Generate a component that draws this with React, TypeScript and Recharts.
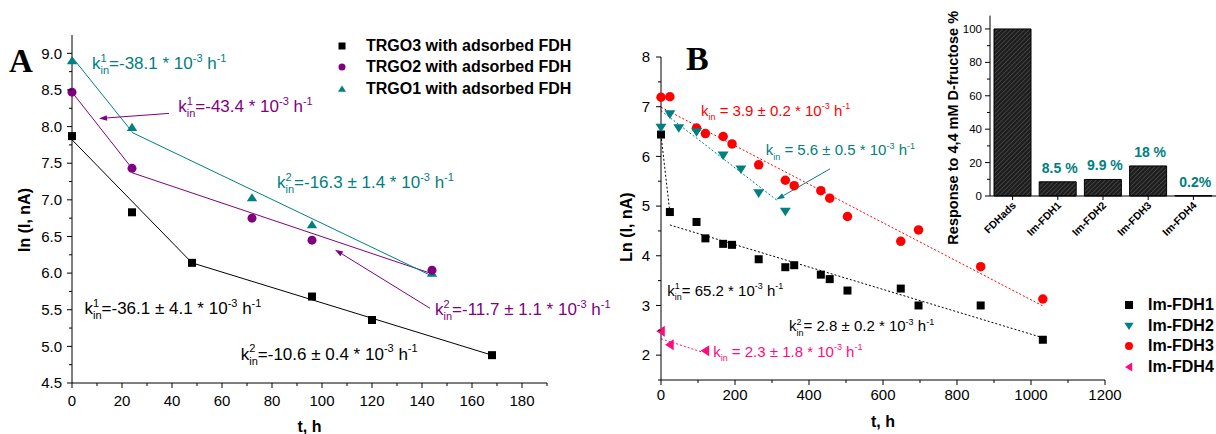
import React from "react";
import {
  ComposedChart,
  BarChart,
  Bar,
  Line,
  Scatter,
  XAxis,
  YAxis,
  ReferenceLine,
  ReferenceDot,
  Legend,
  LabelList,
  Label,
} from "recharts";

const FONT = "'Liberation Sans', Arial, Helvetica, sans-serif";
const SERIF = "'Liberation Serif', 'Times New Roman', serif";

const TEAL = "#008080";
const PURPLE = "#800080";
const RED = "#ff0000";
const PINK = "#ff0a80";

// ---------- panel A data ----------
const trgo3 = [
  { t: 0, v: 7.87 }, { t: 24, v: 6.83 }, { t: 48, v: 6.14 },
  { t: 96, v: 5.68 }, { t: 120, v: 5.36 }, { t: 168, v: 4.88 },
];
const trgo2 = [
  { t: 0, v: 8.47 }, { t: 24, v: 7.43 }, { t: 72, v: 6.75 },
  { t: 96, v: 6.45 }, { t: 144, v: 6.04 },
];
const trgo1 = [
  { t: 0, v: 8.9 }, { t: 24, v: 7.99 }, { t: 72, v: 7.03 },
  { t: 96, v: 6.66 }, { t: 144, v: 6.0 },
];

// fitted lines
const fitTrgo3 = [{ t: 0, v: 7.82 }, { t: 48, v: 6.14 }, { t: 168, v: 4.88 }];
const fitTrgo2a = [{ t: 0, v: 8.47 }, { t: 24, v: 7.43 }];
const fitTrgo2b = [{ t: 24, v: 7.37 }, { t: 145, v: 5.98 }];
const fitTrgo1a = [{ t: 0, v: 8.95 }, { t: 24, v: 7.93 }];
const fitTrgo1b = [{ t: 24, v: 7.92 }, { t: 144, v: 5.96 }];

const xTicksA = [0, 10, 20, 30, 40, 50, 60, 70, 80, 90, 100, 110, 120, 130, 140, 150, 160, 170, 180, 190];
const yTicksA = [4.5, 4.75, 5, 5.25, 5.5, 5.75, 6, 6.25, 6.5, 6.75, 7, 7.25, 7.5, 7.75, 8, 8.25, 8.5, 8.75, 9];

// ---------- panel B data ----------
const fdh1 = [
  { t: 0, v: 6.44 }, { t: 24, v: 4.88 }, { t: 96, v: 4.68 }, { t: 120, v: 4.35 },
  { t: 168, v: 4.24 }, { t: 192, v: 4.22 }, { t: 264, v: 3.93 }, { t: 336, v: 3.77 },
  { t: 360, v: 3.81 }, { t: 432, v: 3.62 }, { t: 456, v: 3.53 }, { t: 504, v: 3.3 },
  { t: 648, v: 3.34 }, { t: 696, v: 3.0 }, { t: 864, v: 3.0 }, { t: 1032, v: 2.31 },
];
const fdh2 = [
  { t: 0, v: 6.58 }, { t: 24, v: 6.85 }, { t: 48, v: 6.57 }, { t: 96, v: 6.49 },
  { t: 168, v: 6.02 }, { t: 216, v: 5.74 }, { t: 264, v: 5.26 }, { t: 336, v: 4.89 },
];
const fdh3 = [
  { t: 0, v: 7.19 }, { t: 24, v: 7.2 }, { t: 96, v: 6.57 }, { t: 120, v: 6.46 },
  { t: 168, v: 6.4 }, { t: 192, v: 6.25 }, { t: 264, v: 5.83 }, { t: 336, v: 5.52 },
  { t: 360, v: 5.41 }, { t: 432, v: 5.31 }, { t: 456, v: 5.16 }, { t: 504, v: 4.79 },
  { t: 648, v: 4.29 }, { t: 696, v: 4.52 }, { t: 864, v: 3.78 }, { t: 1032, v: 3.13 },
];
const fdh4 = [{ t: 0, v: 2.48 }, { t: 24, v: 2.21 }, { t: 120, v: 2.09 }];

const fitFdh1a = [{ t: 0, v: 6.43 }, { t: 24, v: 4.87 }];
const fitFdh1b = [{ t: 24, v: 4.62 }, { t: 1032, v: 2.35 }];
const fitFdh2 = [{ t: 0, v: 6.92 }, { t: 313, v: 5.12 }];
const fitFdh3 = [{ t: 0, v: 6.99 }, { t: 1032, v: 2.99 }];
const fitFdh4 = [{ t: 0, v: 2.33 }, { t: 108, v: 2.07 }];

const xTicksB = [0, 100, 200, 300, 400, 500, 600, 700, 800, 900, 1000, 1100, 1200];
const yTicksB = [1.5, 2, 2.5, 3, 3.5, 4, 4.5, 5, 5.5, 6, 6.5, 7, 7.5, 8];

// ---------- inset data ----------
const insetCats = ["FDHads", "Im-FDH1", "Im-FDH2", "Im-FDH3", "Im-FDH4"];
const insetVals = [100, 8.5, 9.9, 18, 0.2];
const insetLabels = ["", "8.5 %", "9.9 %", "18 %", "0.2%"];
const insetTicks = [0, 10, 20, 30, 40, 50, 60, 70, 80, 90, 100];
const insetData = insetCats.map((c, i) => ({ name: c, val: insetVals[i], lbl: insetLabels[i] }));

// ---------- annotations ----------
const notesA = [
  { t: 8, v: 8.79, color: TEAL, idx: "1", body: "=-38.1 * 10" },
  { t: 42.5, v: 8.2, color: PURPLE, idx: "1", body: "=-43.4 * 10" },
  { t: 82, v: 7.16, color: TEAL, idx: "2", body: "=-16.3 \u00b1 1.4 * 10" },
  { t: 145.2, v: 5.43, color: PURPLE, idx: "2", body: "=-11.7 \u00b1 1.1 * 10" },
  { t: 5, v: 5.44, color: "#000", idx: "1", body: "=-36.1 \u00b1 4.1 * 10" },
  { t: 67.5, v: 4.82, color: "#000", idx: "2", body: "=-10.6 \u00b1 0.4 * 10" },
];
const arrowsA = [
  { from: { x: 38.8, y: 8.18 }, to: { x: 10.8, y: 8.11 }, color: PURPLE },
  { from: { x: 143.2, y: 5.52 }, to: { x: 105.2, y: 6.32 }, color: PURPLE },
];
const notesB = [
  { t: 108, v: 6.82, color: RED, idx: "", body: " = 3.9 \u00b1 0.2 * 10" },
  { t: 283, v: 6.02, color: TEAL, idx: "", body: " = 5.6 \u00b1 0.5 * 10" },
  { t: 17, v: 3.2, color: "#000", idx: "1", body: "= 65.2 * 10" },
  { t: 346, v: 2.48, color: "#000", idx: "2", body: "= 2.8 \u00b1 0.2 * 10" },
  { t: 141, v: 1.97, color: PINK, idx: "", body: " = 2.3 \u00b1 1.8 * 10" },
];
const arrowsB = [{ from: { x: 457, y: 5.75 }, to: { x: 312, y: 5.13 }, color: TEAL }];

type Kind = "square" | "circle" | "up" | "down" | "left";

const seriesA: { name: string; data: { t: number; v: number }[]; color: string; kind: Kind; size: number }[] = [
  { name: "TRGO3 with adsorbed FDH", data: trgo3, color: "#000", kind: "square", size: 8 },
  { name: "TRGO2 with adsorbed FDH", data: trgo2, color: PURPLE, kind: "circle", size: 9 },
  { name: "TRGO1 with adsorbed FDH", data: trgo1, color: TEAL, kind: "up", size: 9 },
];
const seriesB: { name: string; data: { t: number; v: number }[]; color: string; kind: Kind; size: number }[] = [
  { name: "Im-FDH1", data: fdh1, color: "#000", kind: "square", size: 8 },
  { name: "Im-FDH2", data: fdh2, color: TEAL, kind: "down", size: 9.5 },
  { name: "Im-FDH3", data: fdh3, color: RED, kind: "circle", size: 9.5 },
  { name: "Im-FDH4", data: fdh4, color: PINK, kind: "left", size: 9.5 },
];

function Marker({ kind, cx, cy, s, color }: { kind: Kind; cx: number; cy: number; s: number; color: string }) {
  const h = s / 2;
  if (kind === "square") return <rect x={cx - h} y={cy - h} width={s} height={s} fill={color} />;
  if (kind === "circle") return <circle cx={cx} cy={cy} r={h} fill={color} />;
  let pts: number[][];
  if (kind === "up") pts = [[cx, cy - h], [cx + h * 1.15, cy + h * 0.8], [cx - h * 1.15, cy + h * 0.8]];
  else if (kind === "down") pts = [[cx, cy + h], [cx + h * 1.15, cy - h * 0.8], [cx - h * 1.15, cy - h * 0.8]];
  else pts = [[cx - h, cy], [cx + h * 0.8, cy - h * 1.15], [cx + h * 0.8, cy + h * 1.15]];
  return <polygon points={pts.map((p) => p.join(",")).join(" ")} fill={color} />;
}

// k_in text with stacked sub/superscript, as Origin writes it
function KinText({ x, y, color, size, idx, body }: { x: number; y: number; color: string; size: number; idx: string; body: string }) {
  const s = Math.round(size * 0.62);
  const inW = 0.778 * s;
  const idxW = 0.556 * s;
  const up = size * 0.42;
  const down = size * 0.3;
  return (
    <text x={x} y={y} fill={color} fontSize={size} fontFamily={FONT}>
      <tspan>k</tspan>
      <tspan fontSize={s} dy={down}>in</tspan>
      {idx ? (
        <>
          <tspan fontSize={s} dx={-inW} dy={-(down + up)}>{idx}</tspan>
          <tspan dx={inW - idxW} dy={up}>{body}</tspan>
        </>
      ) : (
        <tspan dy={-down}>{body}</tspan>
      )}
      <tspan fontSize={s} dy={-up}>-3</tspan>
      <tspan dy={up}> h</tspan>
      <tspan fontSize={s} dy={-up}>-1</tspan>
    </text>
  );
}

function Arrow(p: any) {
  const { x1, y1, x2, y2, stroke } = p;
  const a = Math.atan2(y2 - y1, x2 - x1);
  const L = 8;
  const W = 2.8;
  const bx = x2 - L * Math.cos(a);
  const by = y2 - L * Math.sin(a);
  const px = -Math.sin(a) * W;
  const py = Math.cos(a) * W;
  return (
    <g>
      <line x1={x1} y1={y1} x2={bx} y2={by} stroke={stroke} strokeWidth={1} />
      <polygon points={`${x2},${y2} ${bx + px},${by + py} ${bx - px},${by - py}`} fill={stroke} />
    </g>
  );
}

const xTick = (isMajor: (v: number) => boolean, dyText: number, fs: number) => (p: any) => {
  const v = p.payload.value;
  const major = isMajor(v);
  return (
    <g>
      <line x1={p.x} x2={p.x} y1={p.y} y2={p.y + (major ? 5 : 3)} stroke="#000" />
      {major && (
        <text x={p.x} y={p.y + dyText} textAnchor="middle" fontSize={fs} fontFamily={FONT} fill="#000">
          {v}
        </text>
      )}
    </g>
  );
};

const yTick = (isMajor: (v: number) => boolean, fmt: (v: number) => string, gap: number, fs: number) => (p: any) => {
  const v = p.payload.value;
  const major = isMajor(v);
  return (
    <g>
      <line x1={p.x} x2={p.x - (major ? 5 : 3)} y1={p.y} y2={p.y} stroke="#000" />
      {major && (
        <text x={p.x - gap} y={p.y} dy="0.35em" textAnchor="end" fontSize={fs} fontFamily={FONT} fill="#000">
          {fmt(v)}
        </text>
      )}
    </g>
  );
};

const xTitle = (text: string, dy: number) => (p: any) => {
  const vb = p.viewBox;
  return (
    <text x={vb.x + vb.width / 2} y={vb.y + dy} textAnchor="middle" fontSize={16} fontWeight="bold" fontFamily={FONT} fill="#000">
      {text}
    </text>
  );
};

const yTitle = (text: string, dx: number, dyc: number, fs: number) => (p: any) => {
  const vb = p.viewBox;
  const x = vb.x + dx;
  const y = vb.y + vb.height / 2 + dyc;
  return (
    <text x={x} y={y} transform={`rotate(-90 ${x} ${y})`} textAnchor="middle" fontSize={fs} fontWeight="bold" fontFamily={FONT} fill="#000">
      {text}
    </text>
  );
};

const legendBox = (items: typeof seriesA, rowH: number, markW: number, ms: number) => () => (
  <div style={{ fontFamily: FONT, fontWeight: "bold", fontSize: 16, color: "#000", whiteSpace: "nowrap" }}>
    {items.map((it) => (
      <div key={it.name} style={{ display: "flex", alignItems: "center", height: rowH }}>
        <svg width={markW} height={14} style={{ flex: "none" }}>
          <Marker kind={it.kind} cx={7} cy={7} s={ms} color={it.color} />
        </svg>
        <span>{it.name}</span>
      </div>
    ))}
  </div>
);

const halfMajor = (v: number) => Math.abs(v * 2 - Math.round(v * 2)) < 1e-6;
const intMajor = (v: number) => Math.abs(v - Math.round(v)) < 1e-6;

function PanelA() {
  return (
    <ComposedChart width={620} height={434} margin={{ top: 35, right: 73, bottom: 0, left: 0 }} style={{ overflow: "visible" }}>
      <XAxis
        type="number"
        dataKey="t"
        domain={[0, 190]}
        ticks={xTicksA}
        interval={0}
        height={51}
        tickSize={0}
        tickMargin={0}
        tickLine={false}
        axisLine={{ stroke: "#000" }}
        tick={xTick((v) => v % 20 === 0, 23, 15)}
      >
        <Label content={xTitle("t, h", 49)} />
      </XAxis>
      <YAxis
        type="number"
        dataKey="v"
        domain={[4.5, 9.25]}
        ticks={yTicksA}
        interval={0}
        width={72}
        tickSize={0}
        tickMargin={0}
        tickLine={false}
        axisLine={{ stroke: "#000" }}
        tick={yTick(halfMajor, (v) => v.toFixed(1), 10, 15)}
      >
        <Label content={yTitle("ln (I, nA)", 30, 11, 16)} />
      </YAxis>
      <Line data={fitTrgo3} dataKey="v" stroke="#000" strokeWidth={1} dot={false} isAnimationActive={false} />
      <Line data={fitTrgo2a} dataKey="v" stroke={PURPLE} strokeWidth={1} dot={false} isAnimationActive={false} />
      <Line data={fitTrgo2b} dataKey="v" stroke={PURPLE} strokeWidth={1} dot={false} isAnimationActive={false} />
      <Line data={fitTrgo1a} dataKey="v" stroke={TEAL} strokeWidth={1} dot={false} isAnimationActive={false} />
      <Line data={fitTrgo1b} dataKey="v" stroke={TEAL} strokeWidth={1} dot={false} isAnimationActive={false} />
      {[...seriesA].reverse().map((s) => (
        <Scatter
          key={s.name}
          name={s.name}
          data={s.data}
          dataKey="v"
          fill={s.color}
          isAnimationActive={false}
          shape={(p: any) => <Marker kind={s.kind} cx={p.cx} cy={p.cy} s={s.size} color={s.color} />}
        />
      ))}
      {arrowsA.map((a, i) => (
        <ReferenceLine key={i} segment={[a.from, a.to]} stroke={a.color} shape={(p: any) => <Arrow {...p} />} />
      ))}
      {notesA.map((n, i) => (
        <ReferenceDot
          key={i}
          x={n.t}
          y={n.v}
          r={0}
          shape={(p: any) => <KinText x={p.cx} y={p.cy} color={n.color} size={17} idx={n.idx} body={n.body} />}
        />
      ))}
      <Legend
        layout="vertical"
        align="center"
        verticalAlign="middle"
        wrapperStyle={{ left: 335, top: 35, width: 270 }}
        content={legendBox(seriesA, 21.5, 31, 7)}
      />
    </ComposedChart>
  );
}

function PanelB() {
  return (
    <ComposedChart width={616} height={434} margin={{ top: 57, right: 111, bottom: 0, left: 0 }} style={{ overflow: "visible" }}>
      <XAxis
        type="number"
        dataKey="t"
        domain={[0, 1200]}
        ticks={xTicksB}
        interval={0}
        height={54}
        tickSize={0}
        tickMargin={0}
        tickLine={false}
        axisLine={{ stroke: "#000" }}
        tick={xTick((v) => v % 200 === 0, 20, 15)}
      >
        <Label content={xTitle("t, h", 47)} />
      </XAxis>
      <YAxis
        type="number"
        dataKey="v"
        domain={[1.5, 8]}
        ticks={yTicksB}
        interval={0}
        width={61}
        tickSize={0}
        tickMargin={0}
        tickLine={false}
        axisLine={{ stroke: "#000" }}
        tick={yTick(intMajor, (v) => String(v), 11, 15)}
      >
        <Label content={yTitle("Ln (I, nA)", 32, 8.5, 16)} />
      </YAxis>
      <Line data={fitFdh3} dataKey="v" stroke={RED} strokeWidth={1} strokeDasharray="2 2" dot={false} isAnimationActive={false} />
      <Line data={fitFdh1a} dataKey="v" stroke="#000" strokeWidth={1} strokeDasharray="2 2" dot={false} isAnimationActive={false} />
      <Line data={fitFdh1b} dataKey="v" stroke="#000" strokeWidth={1} strokeDasharray="2 2" dot={false} isAnimationActive={false} />
      <Line data={fitFdh2} dataKey="v" stroke={TEAL} strokeWidth={1} strokeDasharray="2 2" dot={false} isAnimationActive={false} />
      <Line data={fitFdh4} dataKey="v" stroke={PINK} strokeWidth={1} strokeDasharray="2 2" dot={false} isAnimationActive={false} />
      {[seriesB[2], seriesB[0], seriesB[1], seriesB[3]].map((s) => (
        <Scatter
          key={s.name}
          name={s.name}
          data={s.data}
          dataKey="v"
          fill={s.color}
          isAnimationActive={false}
          shape={(p: any) => <Marker kind={s.kind} cx={p.cx} cy={p.cy} s={s.size} color={s.color} />}
        />
      ))}
      {arrowsB.map((a, i) => (
        <ReferenceLine key={i} segment={[a.from, a.to]} stroke={a.color} shape={(p: any) => <Arrow {...p} />} />
      ))}
      {notesB.map((n, i) => (
        <ReferenceDot
          key={i}
          x={n.t}
          y={n.v}
          r={0}
          shape={(p: any) => <KinText x={p.cx} y={p.cy} color={n.color} size={15} idx={n.idx} body={n.body} />}
        />
      ))}
      <Legend
        layout="vertical"
        align="center"
        verticalAlign="middle"
        wrapperStyle={{ left: 522, top: 294.5, width: 100 }}
        content={legendBox(seriesB, 20.7, 26, 8)}
      />
    </ComposedChart>
  );
}

const insetXTick = (p: any) => {
  const x = p.x + 4;
  const y = p.y + 10;
  return (
    <g>
      <line x1={p.x} x2={p.x} y1={p.y} y2={p.y + 4} stroke="#000" />
      <text x={x} y={y} textAnchor="end" transform={`rotate(-45 ${x} ${y})`} fontSize={10.5} fontWeight="bold" fontFamily={FONT} fill="#000">
        {p.payload.value}
      </text>
    </g>
  );
};

const barLabel = (p: any) => {
  const vb = p.viewBox || p;
  if (!p.value) return null;
  return (
    <text x={vb.x + vb.width / 2 + 2} y={vb.y - 9} textAnchor="middle" fill={TEAL} fontWeight="bold" fontSize={14} fontFamily={FONT}>
      {p.value}
    </text>
  );
};

function Inset() {
  return (
    <BarChart width={316} height={256} data={insetData} margin={{ top: 15.6, right: 0, bottom: 0, left: 0 }} style={{ overflow: "visible" }}>
      <defs>
        <pattern id="hatch" width="3.2" height="3.2" patternUnits="userSpaceOnUse" patternTransform="rotate(45)">
          <rect width="3.2" height="3.2" fill="#1e1e1e" />
          <line x1="0" y1="0" x2="0" y2="3.2" stroke="#5a5a5a" strokeWidth="1.1" />
        </pattern>
      </defs>
      <XAxis dataKey="name" height={60} tickSize={0} tickMargin={0} tickLine={false} interval={0} axisLine={{ stroke: "#000" }} tick={insetXTick} />
      <YAxis
        type="number"
        domain={[0, 108]}
        ticks={insetTicks}
        interval={0}
        width={90}
        tickSize={0}
        tickMargin={0}
        tickLine={false}
        axisLine={{ stroke: "#000" }}
        tick={yTick((v) => v % 20 === 0, (v) => String(v), 8, 11.5)}
      >
        <Label content={yTitle("Response to 4,4 mM D-fructose %", 58, 22, 14.5)} />
      </YAxis>
      <Bar dataKey="val" fill="url(#hatch)" stroke="#000" strokeWidth={1} barSize={37} isAnimationActive={false}>
        <LabelList dataKey="lbl" content={barLabel} />
      </Bar>
    </BarChart>
  );
}

export default function App() {
  return (
    <div style={{ position: "absolute", left: 0, top: 0, width: 1216, height: 434, overflow: "hidden", background: "#fff" }}>
      <div style={{ position: "absolute", left: 0, top: 0 }}>
        <PanelA />
      </div>
      <div style={{ position: "absolute", left: 600, top: 0 }}>
        <PanelB />
      </div>
      <div style={{ position: "absolute", left: 900, top: 0 }}>
        <Inset />
      </div>
      <svg width={1216} height={434} style={{ position: "absolute", left: 0, top: 0, pointerEvents: "none" }}>
        <text x={9} y={72} fontSize={33} fontWeight="bold" fontFamily={SERIF} fill="#000">A</text>
        <text x={686} y={70} fontSize={34} fontWeight="bold" fontFamily={SERIF} fill="#000">B</text>
      </svg>
    </div>
  );
}
